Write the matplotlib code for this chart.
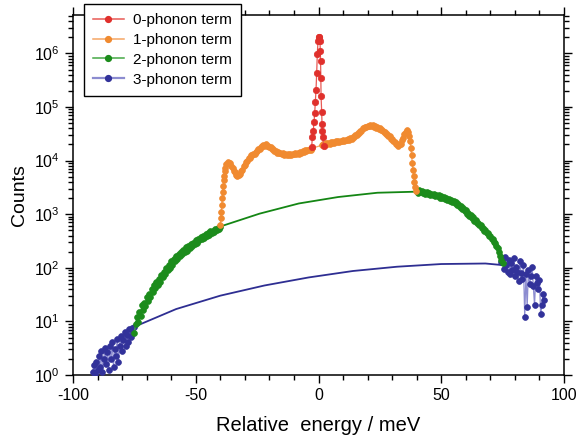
import matplotlib
matplotlib.use('Agg')
import matplotlib.pyplot as plt
from matplotlib.ticker import LogLocator, MultipleLocator, NullFormatter

plt.rcParams['font.family'] = ['Liberation Sans', 'DejaVu Sans']
plt.rcParams['mathtext.fontset'] = 'custom'
plt.rcParams['mathtext.rm'] = 'Liberation Sans'
plt.rcParams['axes.unicode_minus'] = False

# 0-phonon term (log10 of counts)
e0 = [-2.77, -2.52, -2.12, -1.83, -1.55, -1.30, -1.02, -0.73, -0.49, -0.20, 0.08,
      0.35, 0.61, 0.73, 0.85, 0.95, 1.05, 1.30, 1.43, 1.55, 1.71, 2.12]
c0 = [4.25, 4.44, 4.56, 4.72, 4.88, 5.09, 5.31, 5.64, 5.99, 6.23, 6.31,
      6.31, 6.23, 6.05, 5.85, 5.54, 5.20, 4.90, 4.69, 4.56, 4.44, 4.28]

# 1-phonon term
e1 = [-40.0, -39.8, -39.6, -39.4, -39.2, -39.0, -38.8, -38.6, -38.4, -38.2,
      -38.0, -37.5, -37.0, -36.5, -36.0, -35.5, -35.0, -34.5, -34.0, -33.5,
      -33.0, -32.5, -32.0, -31.5, -31.0, -30.5, -30.0, -29.5, -29.0, -28.5,
      -28.0, -27.5, -27.0, -26.5, -26.0, -25.5, -25.0, -24.5, -24.0, -23.5,
      -23.0, -22.5, -22.0, -21.5, -21.0, -20.5, -20.0, -19.5, -19.0, -18.5,
      -18.0, -17.5, -17.0, -16.5, -16.0, -15.5, -15.0, -14.5, -14.0, -13.5,
      -13.0, -12.5, -12.0, -11.5, -11.0, -10.5, -10.0, -9.5, -9.0, -8.5,
      -8.0, -7.5, -7.0, -6.5, -6.0, -5.5, -5.0, -4.5, -4.0, -3.5,
      -3.0, -2.5, 1.5, 2.0, 2.5, 3.0, 3.5, 4.0, 4.5, 5.0,
      5.5, 6.0, 6.5, 7.0, 7.5, 8.0, 8.5, 9.0, 9.5, 10.0,
      10.5, 11.0, 11.5, 12.0, 12.5, 13.0, 13.5, 14.0, 14.5, 15.0,
      15.5, 16.0, 16.5, 17.0, 17.5, 18.0, 18.5, 19.0, 19.5, 20.0,
      20.5, 21.0, 21.5, 22.0, 22.5, 23.0, 23.5, 24.0, 24.5, 25.0,
      25.5, 26.0, 26.5, 27.0, 27.5, 28.0, 28.5, 29.0, 29.5, 30.0,
      30.5, 31.0, 31.5, 32.0, 32.5, 33.0, 33.5, 34.0, 34.5, 35.0,
      35.5, 36.0, 36.5, 37.0, 37.3, 37.6, 37.9, 38.2, 38.5, 38.8,
      39.1, 39.4, 39.7]
c1 = [2.79, 2.92, 3.05, 3.18, 3.30, 3.42, 3.53, 3.63, 3.72, 3.80,
      3.86, 3.93, 3.97, 3.96, 3.95, 3.90, 3.87, 3.80, 3.78, 3.73,
      3.72, 3.74, 3.75, 3.81, 3.83, 3.89, 3.91, 3.97, 3.99, 4.04,
      4.05, 4.10, 4.11, 4.13, 4.12, 4.16, 4.17, 4.21, 4.22, 4.26,
      4.27, 4.29, 4.27, 4.30, 4.28, 4.28, 4.25, 4.25, 4.21, 4.21,
      4.18, 4.18, 4.15, 4.16, 4.14, 4.15, 4.12, 4.14, 4.11, 4.13,
      4.10, 4.12, 4.10, 4.12, 4.11, 4.13, 4.12, 4.14, 4.12, 4.15,
      4.13, 4.16, 4.14, 4.17, 4.16, 4.19, 4.17, 4.20, 4.19, 4.22,
      4.20, 4.23, 4.29, 4.31, 4.29, 4.32, 4.30, 4.33, 4.31, 4.34,
      4.32, 4.35, 4.33, 4.36, 4.34, 4.36, 4.35, 4.37, 4.36, 4.38,
      4.37, 4.39, 4.38, 4.41, 4.39, 4.42, 4.41, 4.44, 4.44, 4.48,
      4.48, 4.52, 4.52, 4.56, 4.56, 4.60, 4.60, 4.63, 4.62, 4.65,
      4.64, 4.67, 4.65, 4.66, 4.63, 4.64, 4.61, 4.62, 4.59, 4.60,
      4.57, 4.57, 4.53, 4.53, 4.49, 4.49, 4.45, 4.45, 4.41, 4.40,
      4.36, 4.35, 4.30, 4.30, 4.27, 4.30, 4.31, 4.38, 4.42, 4.50,
      4.53, 4.57, 4.54, 4.46, 4.36, 4.24, 4.10, 3.96, 3.83, 3.71,
      3.60, 3.51, 3.44]

# 2-phonon term, measured wings
e2_left = [-75.0, -74.5, -74.0, -73.5, -73.0, -72.5, -72.0, -71.5, -71.0, -70.5,
           -70.0, -69.5, -69.0, -68.5, -68.0, -67.5, -67.0, -66.5, -66.0, -65.5,
           -65.0, -64.5, -64.0, -63.5, -63.0, -62.5, -62.0, -61.5, -61.0, -60.5,
           -60.0, -59.5, -59.0, -58.5, -58.0, -57.5, -57.0, -56.5, -56.0, -55.5,
           -55.0, -54.5, -54.0, -53.5, -53.0, -52.5, -52.0, -51.5, -51.0, -50.5,
           -50.0, -49.5, -49.0, -48.5, -48.0, -47.5, -47.0, -46.5, -46.0, -45.5,
           -45.0, -44.5, -44.0, -43.5, -43.0, -42.5, -42.0, -41.5, -41.0, -40.5,
           -40.0]
c2_left = [0.78, 0.95, 1.08, 0.98, 1.18, 1.10, 1.30, 1.22, 1.35, 1.28,
           1.45, 1.38, 1.52, 1.46, 1.60, 1.55, 1.68, 1.62, 1.74, 1.68,
           1.80, 1.74, 1.86, 1.82, 1.93, 1.88, 1.99, 1.95, 2.05, 2.00,
           2.12, 2.06, 2.16, 2.12, 2.22, 2.17, 2.26, 2.22, 2.30, 2.26,
           2.34, 2.29, 2.38, 2.32, 2.40, 2.37, 2.45, 2.40, 2.47, 2.44,
           2.51, 2.47, 2.53, 2.51, 2.58, 2.54, 2.59, 2.56, 2.63, 2.60,
           2.64, 2.62, 2.68, 2.64, 2.69, 2.67, 2.72, 2.70, 2.74, 2.73,
           2.77]
e2_right = [40.0, 40.5, 41.0, 41.5, 42.0, 42.5, 43.0, 43.5, 44.0, 44.5,
            45.0, 45.5, 46.0, 46.5, 47.0, 47.5, 48.0, 48.5, 49.0, 49.5,
            50.0, 50.5, 51.0, 51.5, 52.0, 52.5, 53.0, 53.5, 54.0, 54.5,
            55.0, 55.5, 56.0, 56.5, 57.0, 57.5, 58.0, 58.5, 59.0, 59.5,
            60.0, 60.5, 61.0, 61.5, 62.0, 62.5, 63.0, 63.5, 64.0, 64.5,
            65.0, 65.5, 66.0, 66.5, 67.0, 67.5, 68.0, 68.5, 69.0, 69.5,
            70.0, 70.5, 71.0, 71.5, 72.0, 72.5, 73.0, 73.5, 74.0, 74.5,
            75.0]
c2_right = [3.44, 3.40, 3.45, 3.41, 3.43, 3.39, 3.42, 3.38, 3.41, 3.37,
            3.39, 3.36, 3.38, 3.35, 3.37, 3.34, 3.36, 3.33, 3.35, 3.31,
            3.33, 3.30, 3.32, 3.28, 3.30, 3.26, 3.29, 3.25, 3.27, 3.23,
            3.25, 3.21, 3.22, 3.17, 3.19, 3.14, 3.16, 3.10, 3.11, 3.06,
            3.07, 3.01, 3.03, 2.97, 2.99, 2.92, 2.94, 2.87, 2.89, 2.83,
            2.84, 2.79, 2.80, 2.74, 2.75, 2.69, 2.70, 2.65, 2.65, 2.60,
            2.60, 2.54, 2.53, 2.48, 2.46, 2.40, 2.36, 2.30, 2.22, 2.15,
            2.08]
# 2-phonon term, calculated
e2_calc = [-40, -24, -8, 8, 24, 40]
c2_calc = [2.77, 3.01, 3.20, 3.32, 3.40, 3.42]

# 3-phonon term, measured wings
e3_left = [-92.0, -91.5, -91.0, -90.5, -90.0, -89.5, -89.0, -88.5, -88.0, -87.5,
           -87.0, -86.5, -86.0, -85.5, -85.0, -84.5, -84.0, -83.5, -83.0, -82.5,
           -82.0, -81.5, -81.0, -80.5, -80.0, -79.5, -79.0, -78.5, -78.0, -77.5,
           -77.0, -76.5, -76.0, -75.5, -75.0]
c3_left = [0.05, 0.18, 0.02, 0.25, 0.10, 0.35, 0.15, 0.45, 0.05, 0.30,
           0.50, 0.20, 0.42, 0.10, 0.55, 0.30, 0.62, 0.15, 0.48, 0.35,
           0.68, 0.25, 0.55, 0.72, 0.45, 0.65, 0.80, 0.55, 0.75, 0.62,
           0.85, 0.70, 0.88, 0.78, 0.90]
e3_right = [74.5, 75.0, 75.5, 76.0, 76.5, 77.0, 77.5, 78.0, 78.5, 79.0,
            79.5, 80.0, 80.5, 81.0, 81.5, 82.0, 82.5, 83.0, 83.5, 84.0,
            84.5, 85.0, 85.5, 86.0, 86.5, 87.0, 87.5, 88.0, 88.5, 89.0,
            89.5, 90.0, 90.5, 91.0, 91.5, 92.0]
c3_right = [2.10, 2.18, 1.98, 2.20, 2.05, 1.92, 2.15, 1.88, 2.08, 1.95,
            2.18, 1.85, 2.02, 1.92, 1.75, 2.12, 1.90, 1.80, 2.05, 1.08,
            1.88, 1.27, 1.95, 1.70, 1.85, 2.02, 1.66, 1.30, 1.85, 1.72,
            1.60, 1.78, 1.13, 1.30, 1.52, 1.40]
# 3-phonon term, calculated
e3_calc = [-75, -58, -40, -22, -4, 14, 32, 50, 68, 75]
c3_calc = [0.90, 1.23, 1.48, 1.67, 1.82, 1.94, 2.02, 2.07, 2.08, 2.05]

labels = ['0-phonon term', '1-phonon term', '2-phonon term', '3-phonon term']


def counts(v):
    return [10 ** a for a in v]


fig = plt.figure(figsize=(5.77, 4.42), dpi=100)
ax = fig.add_axes([73 / 577, 1 - 375 / 442, (564 - 73) / 577, (375 - 14.5) / 442])

ms = 4.2
red, red_l = '#e0302c', '#e85a55'
org, org_l = '#f08a30', '#f5a565'
grn, grn_l = '#1c8c1c', '#45a845'
blu, blu_l = '#32329a', '#8c8cd0'

ax.plot(e3_calc, counts(c3_calc), color='#2e2e92', lw=1.3, zorder=2)
ax.plot(e2_calc, counts(c2_calc), color='#148614', lw=1.3, zorder=2)

ax.plot(e3_left, counts(c3_left), '-o', color=blu_l, mfc=blu, mec=blu, ms=ms, mew=0.5, lw=0.9, zorder=3)
ax.plot(e3_right, counts(c3_right), '-o', color=blu_l, mfc=blu, mec=blu, ms=ms, mew=0.5, lw=0.9, zorder=3)
ax.plot(e2_left, counts(c2_left), '-o', color=grn_l, mfc=grn, mec=grn, ms=ms, mew=0.5, lw=0.9, zorder=4)
ax.plot(e2_right, counts(c2_right), '-o', color=grn_l, mfc=grn, mec=grn, ms=ms, mew=0.5, lw=0.9, zorder=4)
ax.plot(e1, counts(c1), '-o', color=org_l, mfc=org, mec=org, ms=ms, mew=0.5, lw=0.9, zorder=5)
ax.plot(e0, counts(c0), '-o', color=red_l, mfc=red, mec=red, ms=ms + 0.4, mew=0.5, lw=0.9, zorder=6)

# legend handles
hs = []
for lab, mc, lc in zip(labels, [red, org, grn, blu], [red_l, org_l, grn_l, blu_l]):
    h, = ax.plot([], [], '-o', color=lc, mfc=mc, mec=mc, ms=4.2, lw=1.6 if lab[0] == '3' else 1.1)
    hs.append(h)
leg = fig.legend(hs, labels,
                 loc='upper left', bbox_to_anchor=(84 / 577, 1 - 4 / 442), borderaxespad=0,
                 fontsize=11, frameon=True, fancybox=False, framealpha=1, edgecolor='black',
                 handlelength=2.0, handletextpad=0.6, labelspacing=0.38, borderpad=0.6)
leg.get_frame().set_linewidth(1.0)

ax.set_yscale('log')
ax.set_xlim(-100, 100)
ax.set_ylim(1, 10 ** 6.725)
ax.xaxis.set_major_locator(MultipleLocator(50))
ax.xaxis.set_minor_locator(MultipleLocator(10))
ax.yaxis.set_major_locator(LogLocator(base=10, numticks=10))
ax.yaxis.set_minor_locator(LogLocator(base=10, subs=range(2, 10), numticks=20))
ax.yaxis.set_minor_formatter(NullFormatter())

for s in ax.spines.values():
    s.set_linewidth(1.1)
ax.tick_params(which='both', direction='out', top=True, right=True, width=1.0, labelsize=11.5)
ax.tick_params(which='major', length=6)
ax.tick_params(which='minor', length=3.5)

ax.set_xlabel('Relative  energy / meV', fontsize=14.5, labelpad=9)
ax.set_ylabel('Counts', fontsize=14, labelpad=4)

plt.savefig('out.png', dpi=100)
